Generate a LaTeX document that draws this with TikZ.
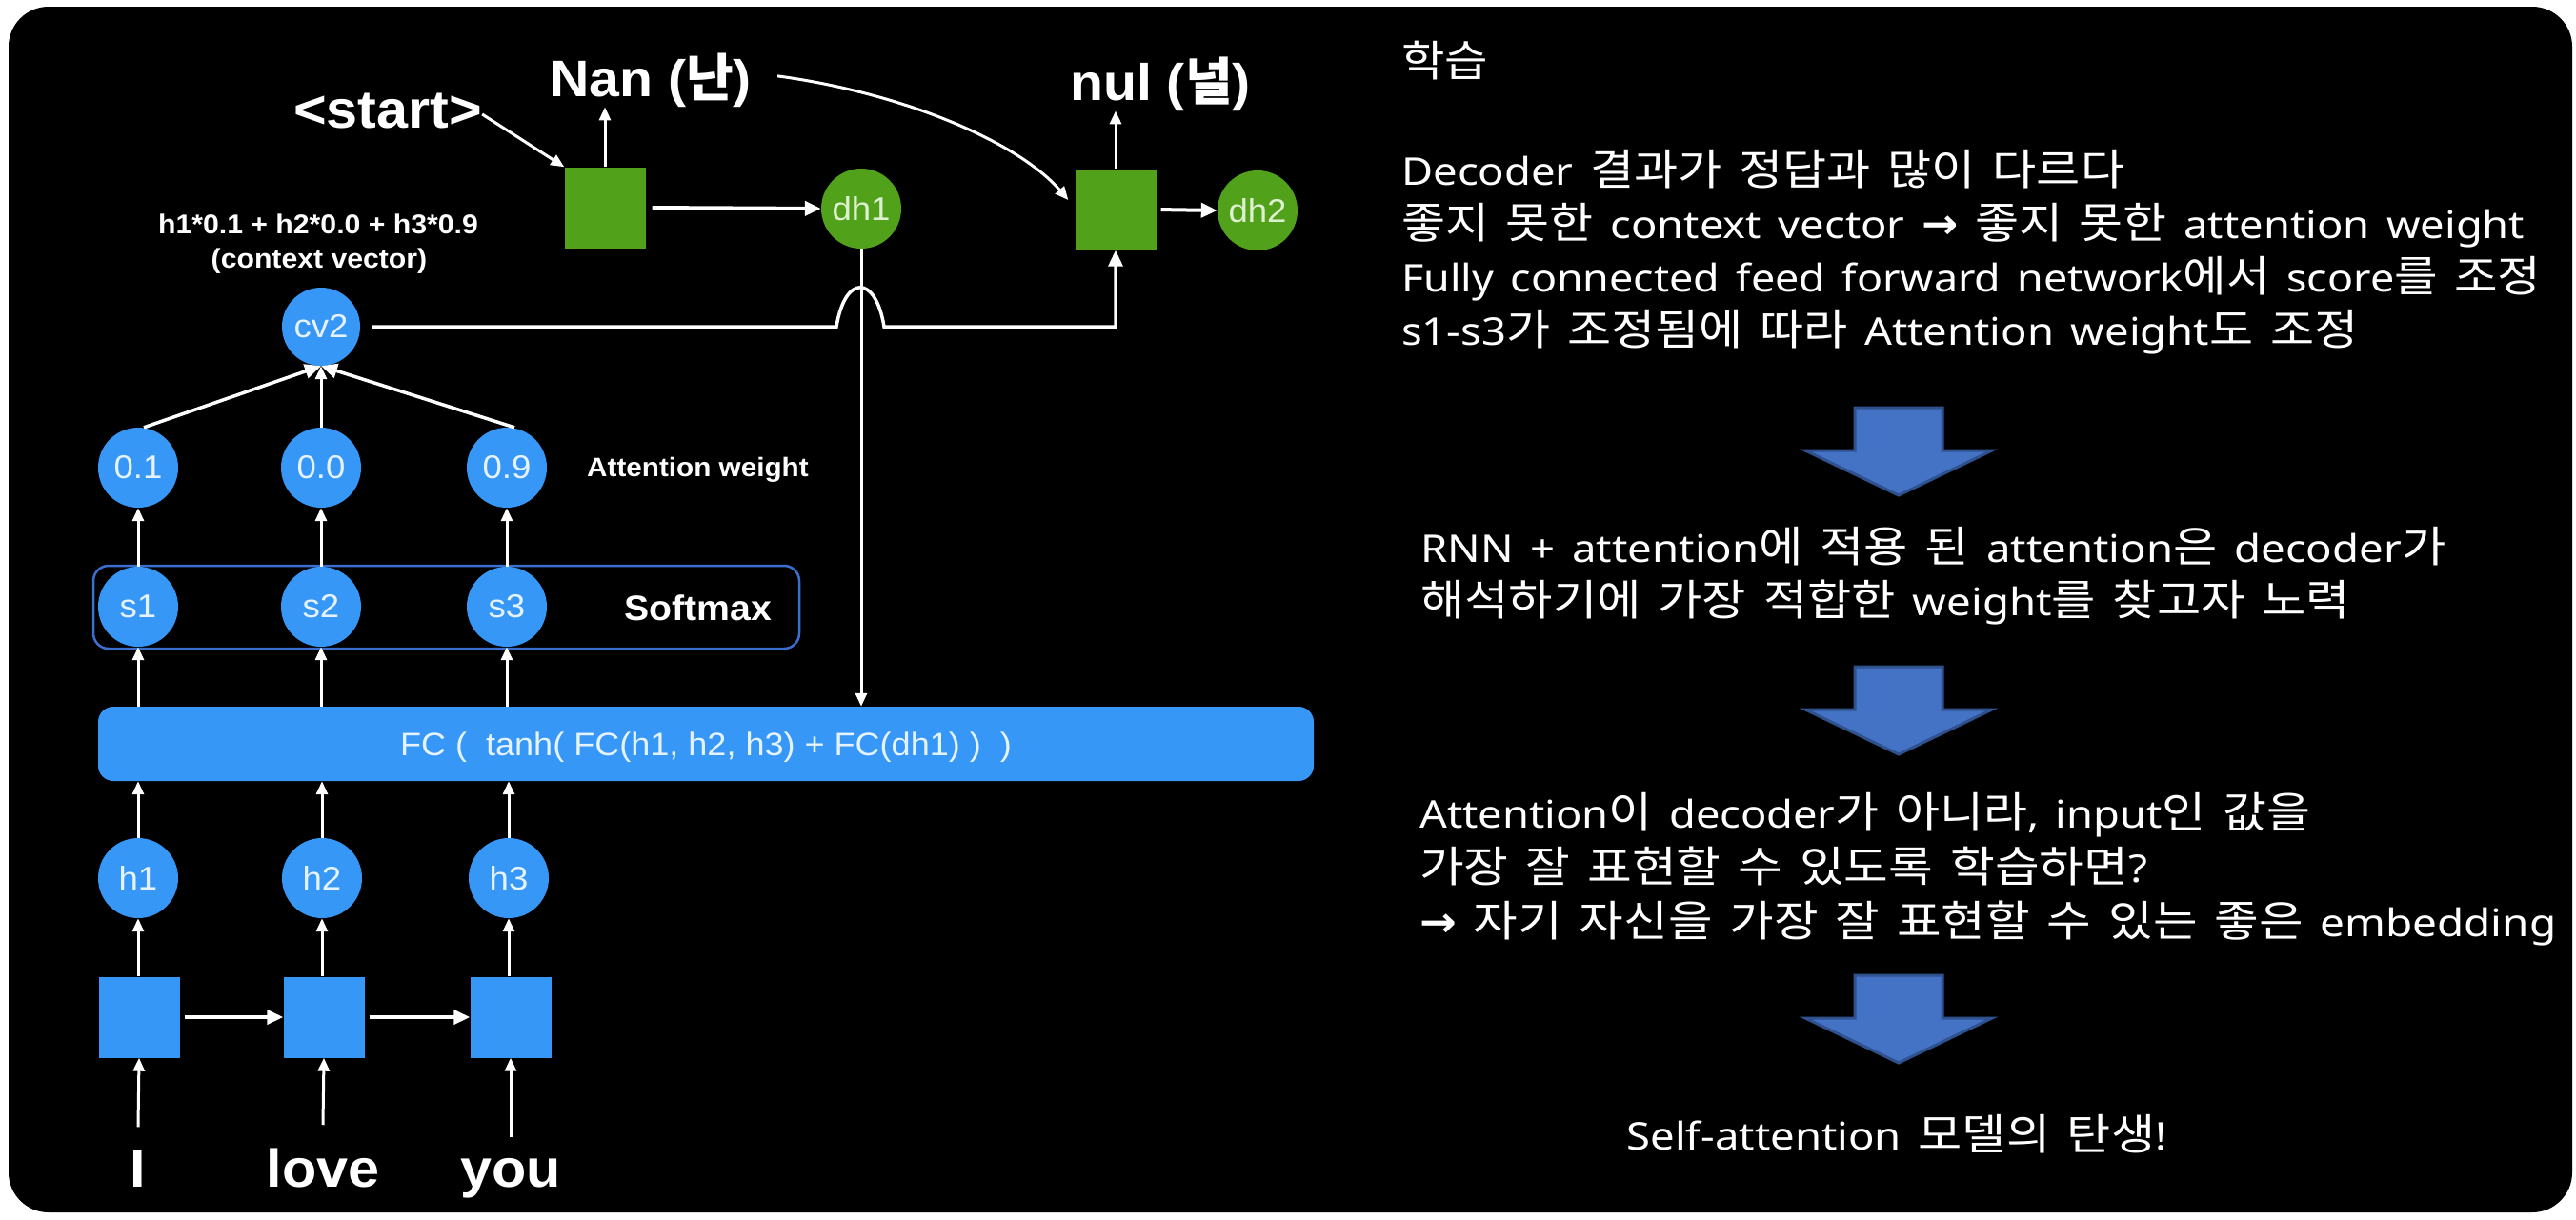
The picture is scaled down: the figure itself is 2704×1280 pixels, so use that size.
\documentclass[tikz,border=0pt]{standalone}
\usepackage{fontspec}
\usepackage{graphicx}
\setmainfont{Noto Sans}
\newfontfamily\dia{Liberation Sans}[FakeStretch=1.06]
\newfontfamily\kr{Noto Sans CJK KR}
\newfontfamily\rlat{Noto Sans}[FakeStretch=1.09,WordSpace=1.5]
\newfontfamily\rkr{Noto Sans CJK KR}[FakeStretch=1.07]
\newfontfamily\rarr{DejaVu Sans}
\newcommand\hk[1]{{\rkr\fontsize{45}{56}\selectfont #1}}
\newcommand\rarrow{{\rarr\bfseries\fontsize{44}{56}\selectfont →}}
\newcommand\fitline[2]{\resizebox{#1pt}{\height}{#2}}
\usetikzlibrary{arrows.meta}
\definecolor{bblue}{HTML}{3797F7}
\definecolor{bgreen}{HTML}{52A11B}
\definecolor{sboxc}{HTML}{3A6FD0}
\definecolor{afill}{HTML}{4472C4}
\definecolor{aline}{HTML}{2F528F}
\definecolor{ctextb}{HTML}{E4F3FF}
\definecolor{ctextg}{HTML}{DDF0CF}
\tikzset{
  arr/.style={draw=white, line width=3pt, -{Triangle[length=14pt,width=12pt]}},
  arrh/.style={draw=white, line width=4pt, -{Triangle[length=17pt,width=15pt]}},
  bcirc/.style={circle, fill=bblue, minimum size=84pt, inner sep=0pt, text=ctextb, font=\dia\fontsize{34.5}{36}\selectfont},
  gcirc/.style={bcirc, fill=bgreen, text=ctextg},
  bsq/.style={rectangle, fill=bblue, minimum width=85pt, minimum height=85pt, inner sep=0pt},
  gsq/.style={bsq, fill=bgreen},
  lbl/.style={text=white, font=\dia\bfseries\fontsize{28.5}{36}\selectfont, inner sep=0pt, anchor=base},
  biglbl/.style={text=white, font=\dia\bfseries\fontsize{54}{60}\selectfont, inner sep=0pt, anchor=base},
  wordlbl/.style={text=white, font=\dia\bfseries\fontsize{56}{60}\selectfont, inner sep=0pt, anchor=base},
  rtext/.style={text=white, font=\rlat\fontsize{40}{56}\selectfont, inner sep=0pt, anchor=base west},
  blockarrow/.style={fill=afill, draw=aline, line width=3pt, line join=miter},
  blockarr/.pic={\path[blockarrow] (-46,0) -- (46,0) -- (46,45) -- (98,45) -- (0,92) -- (-98,45) -- (-46,45) -- cycle;}
}
\begin{document}
\begin{tikzpicture}[x=1pt,y=-1pt]
\useasboundingbox (0,0) rectangle (2704,1280);
\fill[white] (0,0) rectangle (2704,1280);
\fill[black, rounded corners=42pt] (9,7) rectangle (2700,1273);

% ---------- encoder ----------
\node[wordlbl] (wI) at (145,1246) {I};
\node[wordlbl] (wlove) at (339,1246) {love};
\node[wordlbl] (wyou) at (536,1246) {you};

\node[bsq] (b1) at (146,1068) {};
\node[bsq] (b2) at (340,1068) {};
\node[bsq] (b3) at (536,1068) {};

\node[bcirc] (h1) at (145,922) {h1};
\node[bcirc] (h2) at (338,922) {h2};
\node[bcirc] (h3) at (534,922) {h3};

\node[rectangle, rounded corners=16pt, fill=bblue, minimum width=1276pt, minimum height=78pt, inner sep=0pt] (fc) at (741,781) {};
\node[text=ctextb, font=\dia\fontsize{34}{40}\selectfont, inner sep=0pt] (fctext) at (741,785) {FC (\ \ tanh( FC(h1, h2, h3) + FC(dh1) )\ \ )};

\node[rectangle, rounded corners=16pt, draw=sboxc, line width=2.5pt, minimum width=741pt, minimum height=87pt, inner sep=0pt] (smax) at (468.5,637.5) {};
\node[bcirc] (s1) at (145,637) {s1};
\node[bcirc] (s2) at (337,637) {s2};
\node[bcirc] (s3) at (532,637) {s3};
\node[text=white, font=\dia\bfseries\fontsize{37}{40}\selectfont, inner sep=0pt, anchor=base west] (smaxlbl) at (655,651) {Softmax};

\node[bcirc] (w1) at (145,491) {0.1};
\node[bcirc] (w2) at (337,491) {0.0};
\node[bcirc] (w3) at (532,491) {0.9};
\node[lbl, font=\dia\bfseries\fontsize{28}{36}\selectfont, anchor=base west] (awlbl) at (616,500) {Attention weight};

\node[bcirc, minimum size=82pt] (cv2) at (337,343) {cv2};
\node[lbl] (ctx1) at (334,245) {h1*0.1 + h2*0.0 + h3*0.9};
\node[lbl] (ctx2) at (335,281.5) {(context vector)};

% ---------- decoder ----------
\node[gsq] (sq1) at (635,218) {};
\node[gcirc] (dh1) at (904,219) {dh1};
\node[gsq] (sq2) at (1171,220) {};
\node[gcirc] (dh2) at (1320,221) {dh2};

\node[biglbl, font=\dia\bfseries\fontsize{56}{60}\selectfont] (start) at (407,134) {<start>};
\node[biglbl] (nan) at (683,101) {Nan ({\kr\bfseries 난})};
\node[biglbl] (nul) at (1218,105) {nul ({\kr\bfseries 널})};

% ---------- connectors ----------
\draw[arr] ([yshift=24pt]wI.north) -- (b1.south);
\draw[arr] ([yshift=24pt]wlove.north) -- (b2.south);
\draw[arr] ([yshift=22pt]wyou.north -| b3) -- (b3.south);
\draw[arrh, shorten <=5pt] (b1.east) -- (b2.west);
\draw[arrh, shorten <=5pt] (b2.east) -- (b3.west);
\draw[arr] (b1.north -| h1) -- (h1.south);
\draw[arr] (b2.north -| h2) -- (h2.south);
\draw[arr] (b3.north -| h3) -- (h3.south);
\draw[arr] (h1.north) -- (h1 |- fc.south);
\draw[arr] (h2.north) -- (h2 |- fc.south);
\draw[arr] (h3.north) -- (h3 |- fc.south);
\draw[arr] (s1 |- fc.north) -- (s1.south);
\draw[arr] (s2 |- fc.north) -- (s2.south);
\draw[arr] (s3 |- fc.north) -- (s3.south);
\draw[arr] (s1.north) -- (w1.south);
\draw[arr] (s2.north) -- (w2.south);
\draw[arr] (s3.north) -- (w3.south);
\draw[arrh, line width=3.5pt] ([xshift=6pt]w1.north) -- (cv2.south);
\draw[arr] (w2.north) -- (cv2.south);
\draw[arrh, line width=3.5pt] ([xshift=8pt]w3.north) -- (cv2.south);

\draw[arr] (dh1.south) -- (dh1 |- fc.north);
\draw[arrh, line width=3.5pt, shorten <=13pt] (cv2.east) -- (878,343) .. controls (887,288) and (919,288) .. (928,343) -- (sq2 |- cv2.east) -- (sq2.south);

\draw[arrh, shorten <=7pt] (sq1.east) -- (dh1.west);
\draw[arrh, shorten <=5pt] (sq2.east) -- (dh2.west);
\draw[arr] (sq1.north) -- (nan.south -| sq1);
\draw[arr] (sq2.north) -- (nul.south -| sq2);
\draw[arr] ([yshift=-4pt]start.east) -- (sq1.north west);
\draw[arr] ([xshift=27pt,yshift=4pt]nan.east) .. controls (950,98) and (1070,150) .. ([xshift=-7pt,yshift=10pt]sq2.west);

% ---------- right side ----------
\node[rtext] (t0) at (1471,80) {\fitline{91}{\hk{학습}}};
\node[rtext] (t1) at (1471,194) {\fitline{759}{Decoder \hk{결과가} \hk{정답과} \hk{많이} \hk{다르다}}};
\node[rtext] (t2) at (1471,250.5) {\fitline{1179}{\hk{좋지} \hk{못한} context vector \rarrow{} \hk{좋지} \hk{못한} attention weight}};
\node[rtext] (t3) at (1471,306) {\fitline{1196}{Fully connected feed forward network\hk{에서} score\hk{를} \hk{조정}}};
\node[rtext] (t4) at (1471,362) {\fitline{1004}{s1-s3\hk{가} \hk{조정됨에} \hk{따라} Attention weight\hk{도} \hk{조정}}};

\pic at (1993,428) {blockarr};

\node[rtext] (t5) at (1491,590) {\fitline{1076}{RNN + attention\hk{에} \hk{적용} \hk{된} attention\hk{은} decoder\hk{가}}};
\node[rtext] (t6) at (1491,646) {\fitline{976}{\hk{해석하기에} \hk{가장} \hk{적합한} weight\hk{를} \hk{찾고자} \hk{노력}}};

\pic at (1993,700) {blockarr};

\node[rtext] (t7) at (1490,869) {\fitline{935}{Attention\hk{이} decoder\hk{가} \hk{아니라}, input\hk{인} \hk{값을}}};
\node[rtext] (t8) at (1490,926) {\fitline{764}{\hk{가장} \hk{잘} \hk{표현할} \hk{수} \hk{있도록} \hk{학습하면}?}};
\node[rtext] (t9) at (1490,983) {\fitline{1193}{\rarrow{} \hk{자기} \hk{자신을} \hk{가장} \hk{잘} \hk{표현할} \hk{수} \hk{있는} \hk{좋은} embedding}};

\pic at (1993,1024) {blockarr};

\node[rtext, anchor=base] (t10) at (1991,1207) {\fitline{567}{Self-attention \hk{모델의} \hk{탄생}!}};
\end{tikzpicture}
\end{document}
